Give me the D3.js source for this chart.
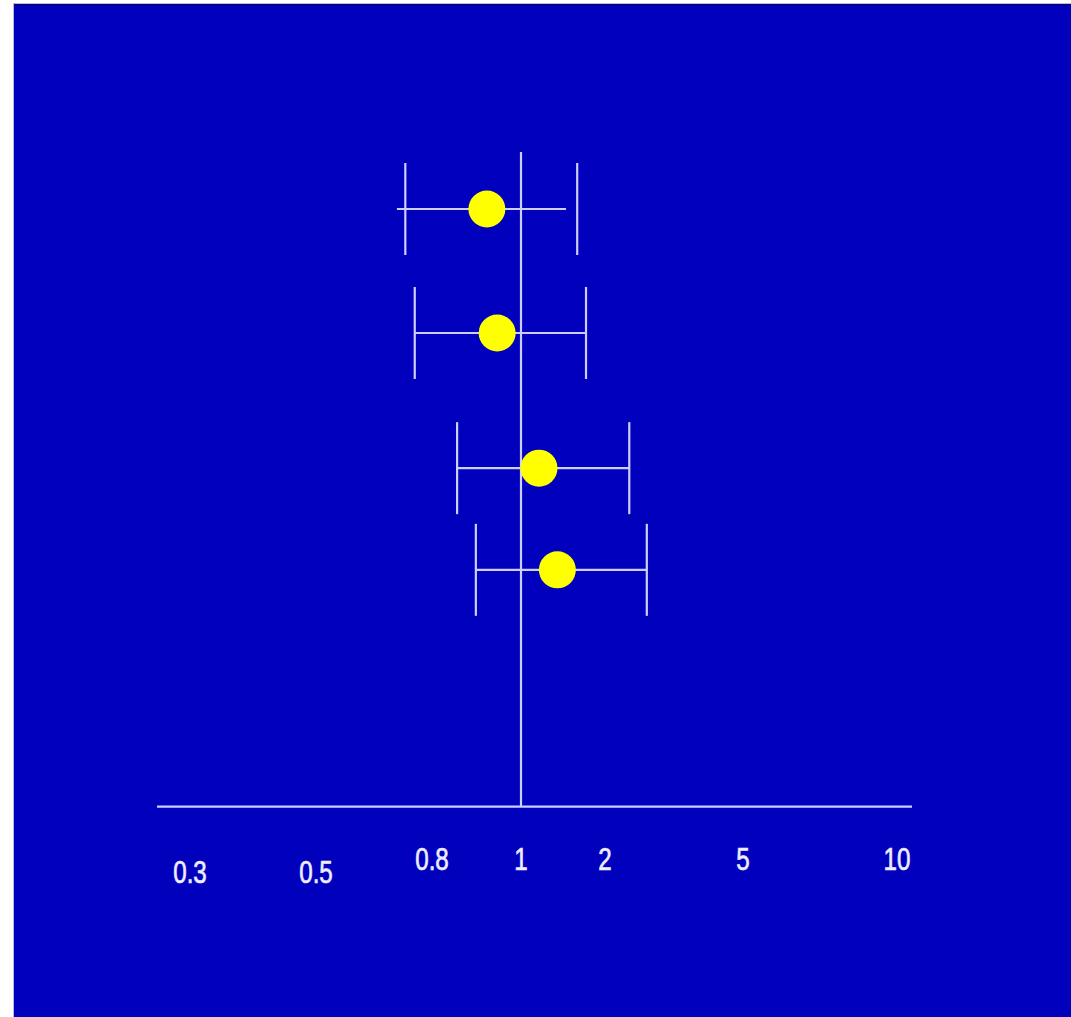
<!DOCTYPE html>
<html>
<head>
<meta charset="utf-8">
<script src="https://cdn.jsdelivr.net/npm/d3@7"></script>
<style>
  html, body { margin: 0; padding: 0; background: #ffffff; }
  svg { display: block; }
</style>
</head>
<body>
<svg id="chart" width="1071" height="1017"></svg>
<script>
// ---- data ----
const tickValues = [0.3, 0.5, 0.8, 1, 2, 5, 10];
const tickLabels = ["0.3", "0.5", "0.8", "1", "2", "5", "10"];
const studies   = ["Study 1", "Study 2", "Study 3", "Study 4"];
const rowPos    = [1, 2, 3.09, 3.91];          // vertical position of each row
const estimate  = [0.918, 0.942, 1.16, 1.35];  // point estimates
const lineLow   = [0.694, 0.746, 0.852, 0.893]; // whisker line ends
const lineHigh  = [1.45, 1.71, 2.35, 2.64];
const capLow    = [0.718, 0.746, 0.852, 0.893]; // end caps
const capHigh   = [1.59, 1.71, 2.35, 2.64];

// ---- layout ----
const W = 1071, H = 1017;
const svg = d3.select("#chart");

// the axis of the slide is hand-spaced: a piecewise log scale
const x = d3.scaleLog()
  .domain(tickValues)
  .range([190, 316, 432, 521, 605, 743, 897]);
const y = d3.scaleLinear().domain([0, 1]).range([85, 209]);

const lineColor = "#cdcdff";
const bg = "#0000bd";

// background panel with a faint frame
svg.append("rect").attr("x", 0).attr("y", 0).attr("width", W).attr("height", H).attr("fill", "#ffffff");
svg.append("rect").attr("x", 13).attr("y", 3).attr("width", W - 13).attr("height", H - 3).attr("fill", "#b8b8d8");
svg.append("rect").attr("x", 14).attr("y", 4).attr("width", W - 14).attr("height", H - 4).attr("fill", bg);
svg.append("rect").attr("x", 14).attr("y", 4).attr("width", W - 14).attr("height", 2).attr("fill", "#00008a");

const axisY = y(5.82);

// horizontal axis line
svg.append("line")
  .attr("x1", x(0.3) - 33).attr("x2", x(10) + 15)
  .attr("y1", axisY).attr("y2", axisY)
  .attr("stroke", lineColor).attr("stroke-width", 2.2);

// line of no effect
svg.append("line")
  .attr("x1", x(1)).attr("x2", x(1))
  .attr("y1", y(0.54)).attr("y2", axisY)
  .attr("stroke", lineColor).attr("stroke-width", 2.2);

// tick labels (condensed, tall lettering as on the slide)
svg.append("g").selectAll("text")
  .data(tickValues)
  .join("text")
  .attr("transform", d => `translate(${x(d)},${axisY + (d < 0.8 ? 76 : 63)}) scale(0.78,1)`)
  .attr("text-anchor", "middle")
  .attr("fill", "#f0f0ff")
  .attr("stroke", "#e6e6ff")
  .attr("stroke-width", 0.7)
  .attr("font-family", "'Liberation Sans', Arial, sans-serif")
  .attr("font-size", 31)
  .text((d, i) => tickLabels[i]);

const rows = studies.map((s, i) => ({
  name: s, pos: rowPos[i], est: estimate[i],
  lo: lineLow[i], hi: lineHigh[i], clo: capLow[i], chi: capHigh[i]
}));

const capHalf = 46;
const g = svg.append("g");

// whisker lines
g.selectAll("line.whisker").data(rows).join("line")
  .attr("class", "whisker")
  .attr("x1", d => x(d.lo)).attr("x2", d => x(d.hi))
  .attr("y1", d => y(d.pos)).attr("y2", d => y(d.pos))
  .attr("stroke", lineColor).attr("stroke-width", 2.2);

// caps
g.selectAll("line.capL").data(rows).join("line")
  .attr("class", "capL")
  .attr("x1", d => x(d.clo)).attr("x2", d => x(d.clo))
  .attr("y1", d => y(d.pos) - capHalf).attr("y2", d => y(d.pos) + capHalf)
  .attr("stroke", lineColor).attr("stroke-width", 2.2);
g.selectAll("line.capR").data(rows).join("line")
  .attr("class", "capR")
  .attr("x1", d => x(d.chi)).attr("x2", d => x(d.chi))
  .attr("y1", d => y(d.pos) - capHalf).attr("y2", d => y(d.pos) + capHalf)
  .attr("stroke", lineColor).attr("stroke-width", 2.2);

// point estimates
g.selectAll("circle").data(rows).join("circle")
  .attr("cx", d => x(d.est))
  .attr("cy", d => y(d.pos))
  .attr("r", 18.5)
  .attr("fill", "#ffff00");
</script>
</body>
</html>
